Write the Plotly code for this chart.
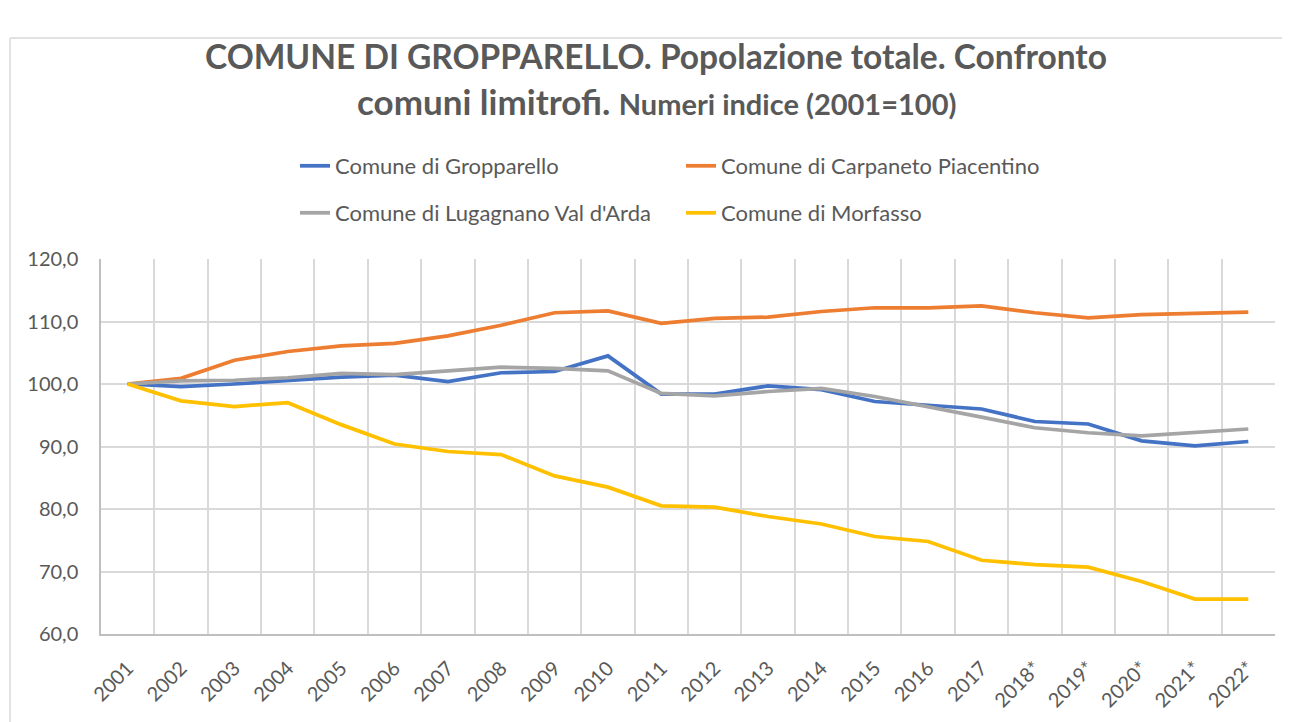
import plotly.graph_objects as go

years = ["2001", "2002", "2003", "2004", "2005", "2006", "2007", "2008", "2009", "2010",
         "2011", "2012", "2013", "2014", "2015", "2016", "2017", "2018*", "2019*", "2020*",
         "2021*", "2022*"]

gropparello = [100.0, 99.6, 100.0, 100.5, 101.1, 101.4, 100.4, 101.8, 102.0, 104.5,
               98.4, 98.4, 99.7, 99.1, 97.2, 96.6, 96.0, 94.0, 93.6, 90.9, 90.1, 90.8]
carpaneto = [100.0, 100.9, 103.8, 105.2, 106.1, 106.5, 107.7, 109.4, 111.4, 111.7,
             109.7, 110.5, 110.7, 111.6, 112.2, 112.2, 112.5, 111.4, 110.6, 111.1, 111.3, 111.5]
lugagnano = [100.0, 100.5, 100.6, 101.0, 101.7, 101.5, 102.1, 102.7, 102.5, 102.1,
             98.5, 98.1, 98.8, 99.3, 98.0, 96.4, 94.7, 93.0, 92.2, 91.7, 92.3, 92.8]
morfasso = [100.0, 97.3, 96.4, 97.0, 93.5, 90.4, 89.2, 88.7, 85.3, 83.5,
            80.5, 80.3, 78.8, 77.6, 75.6, 74.8, 71.8, 71.1, 70.7, 68.4, 65.6, 65.6]

series = [
    ("Comune di Gropparello", gropparello, "#4472C4", "legend"),
    ("Comune di Carpaneto Piacentino", carpaneto, "#ED7D31", "legend"),
    ("Comune di Lugagnano Val d'Arda", lugagnano, "#A5A5A5", "legend2"),
    ("Comune di Morfasso", morfasso, "#FFC000", "legend2"),
]

FONT = "Lato"
TXT = "#595959"

fig = go.Figure()
for name, vals, col, lg in series:
    fig.add_trace(go.Scatter(x=years, y=vals, name=name, mode="lines",
                             line=dict(color=col, width=3.75),
                             legend=lg))

# page body has an 8px margin; work in screen pixels and subtract it
OFF = 8
W, H = 1282, 714
L, T = 101 - OFF, 259 - OFF
pw, ph = 1174, 375
R = W - L - pw
B = H - T - ph

def px(sx):
    return (sx - OFF - L) / pw

def py(sy):
    return (H - B - (sy - OFF)) / ph

legend_common = dict(orientation="h", xanchor="left", yanchor="middle",
                     font=dict(family=FONT, size=22, color=TXT),
                     entrywidth=341, entrywidthmode="pixels",
                     bgcolor="rgba(0,0,0,0)", tracegroupgap=0)

fig.update_layout(
    width=W, height=H,
    margin=dict(l=L, r=R, t=T, b=B),
    paper_bgcolor="white", plot_bgcolor="white",
    showlegend=True,
    legend=dict(x=px(295), y=py(166), **legend_common),
    legend2=dict(x=px(295), y=py(213), **legend_common),
    xaxis=dict(type="category", range=[-0.5, len(years) - 0.5], tickson="boundaries",
               showgrid=True, gridcolor="#D9D9D9", gridwidth=1.5,
               showline=True, linecolor="#BFBFBF", linewidth=1.5,
               ticks="", tickangle=-45, ticklabelstandoff=13, ticklabelshift=0,
               tickfont=dict(family=FONT, size=20, color=TXT)),
    yaxis=dict(range=[60, 120], dtick=10, tickformat=".1f",
               showgrid=True, gridcolor="#D9D9D9", gridwidth=1.5,
               showline=True, linecolor="#BFBFBF", linewidth=1.5, zeroline=False,
               ticks="", ticklabelstandoff=17,
               tickfont=dict(family=FONT, size=20, color=TXT)),
    separators=",.",
    annotations=[
        dict(text="<b>COMUNE DI GROPPARELLO. Popolazione totale. Confronto</b>",
             xref="paper", yref="paper", x=px(656), y=py(56),
             xanchor="center", yanchor="middle", showarrow=False,
             font=dict(family=FONT, size=33.5, color=TXT)),
        dict(text="<b>comuni limitrofi. <span style='font-size:29px'>Numeri indice (2001=100)</span></b>",
             xref="paper", yref="paper", x=px(656), y=py(101),
             xanchor="center", yanchor="middle", showarrow=False,
             font=dict(family=FONT, size=35, color=TXT)),
    ],
    shapes=[
        dict(type="line", xref="paper", yref="paper",
             x0=px(10), x1=px(10), y0=py(38), y1=py(730),
             line=dict(color="#D9D9D9", width=1.5)),
        dict(type="line", xref="paper", yref="paper",
             x0=px(10), x1=px(1300), y0=py(38), y1=py(38),
             line=dict(color="#D9D9D9", width=1.5)),
    ],
)

fig.write_html("out.html")
